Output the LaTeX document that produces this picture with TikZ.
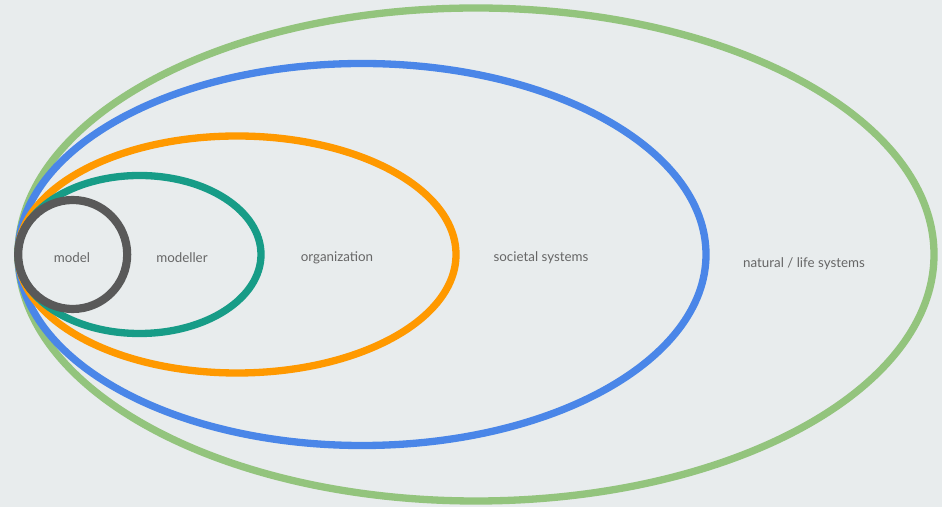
\documentclass[tikz,border=0pt]{standalone}
\usepackage{fontspec}
\setmainfont{Lato}
\usetikzlibrary{shapes.geometric}
\definecolor{mybgcolor}{HTML}{E8ECED}
\definecolor{mylifecolor}{HTML}{93C47D}
\definecolor{mysocietycolor}{HTML}{4A86E8}
\definecolor{myorgcolor}{HTML}{FF9900}
\definecolor{mymodellercolor}{HTML}{179C87}
\definecolor{mymodelcolor}{HTML}{595959}
\definecolor{mytextcolor}{HTML}{666666}
\tikzset{
  ring/.style={draw=#1, ellipse, line width=5.2pt, inner sep=0pt},
  ringlabel/.style={text=mytextcolor, inner sep=0pt}
}

\begin{document}
\begin{tikzpicture}%
\fill[mybgcolor] (0, 0) rectangle (23.55, 12.675);%
\useasboundingbox (0, 0) rectangle (23.55, 12.675);%
\node[ring=mylifecolor, minimum width=22.9cm, minimum height=12.325cm] (life) at (11.9, 6.3125) {};%
\node[ring=mysocietycolor, minimum width=17.2cm, minimum height=9.55cm] (society) at (9.05, 6.3125) {};%
\node[ring=myorgcolor, minimum width=10.95cm, minimum height=5.925cm] (org) at (5.925, 6.3125) {};%
\node[ring=mymodellercolor, minimum width=6.075cm, minimum height=3.95cm] (modeller) at (3.4875, 6.3125) {};%
\node[ring=mymodelcolor, line width=5.8pt, minimum width=2.725cm, minimum height=2.725cm] (model) at (1.8175, 6.3125) {};%
\node[ringlabel] (modeltext) at (1.8, 6.23) {\fontsize{9.5pt}{9.5pt}\selectfont model};%
\node[ringlabel] (modellertext) at (4.55, 6.23) {\fontsize{9.5pt}{9.5pt}\selectfont modeller};%
\node[ringlabel] (orgtext) at (8.425, 6.23) {\fontsize{9.5pt}{9.5pt}\selectfont organization};%
\node[ringlabel] (societytext) at (13.525, 6.23) {\fontsize{9.5pt}{9.5pt}\selectfont societal systems};%
\node[ringlabel] (lifetext) at (20.1, 6.08) {\fontsize{9.5pt}{9.5pt}\selectfont natural / life systems};%
\end{tikzpicture}
\end{document}
